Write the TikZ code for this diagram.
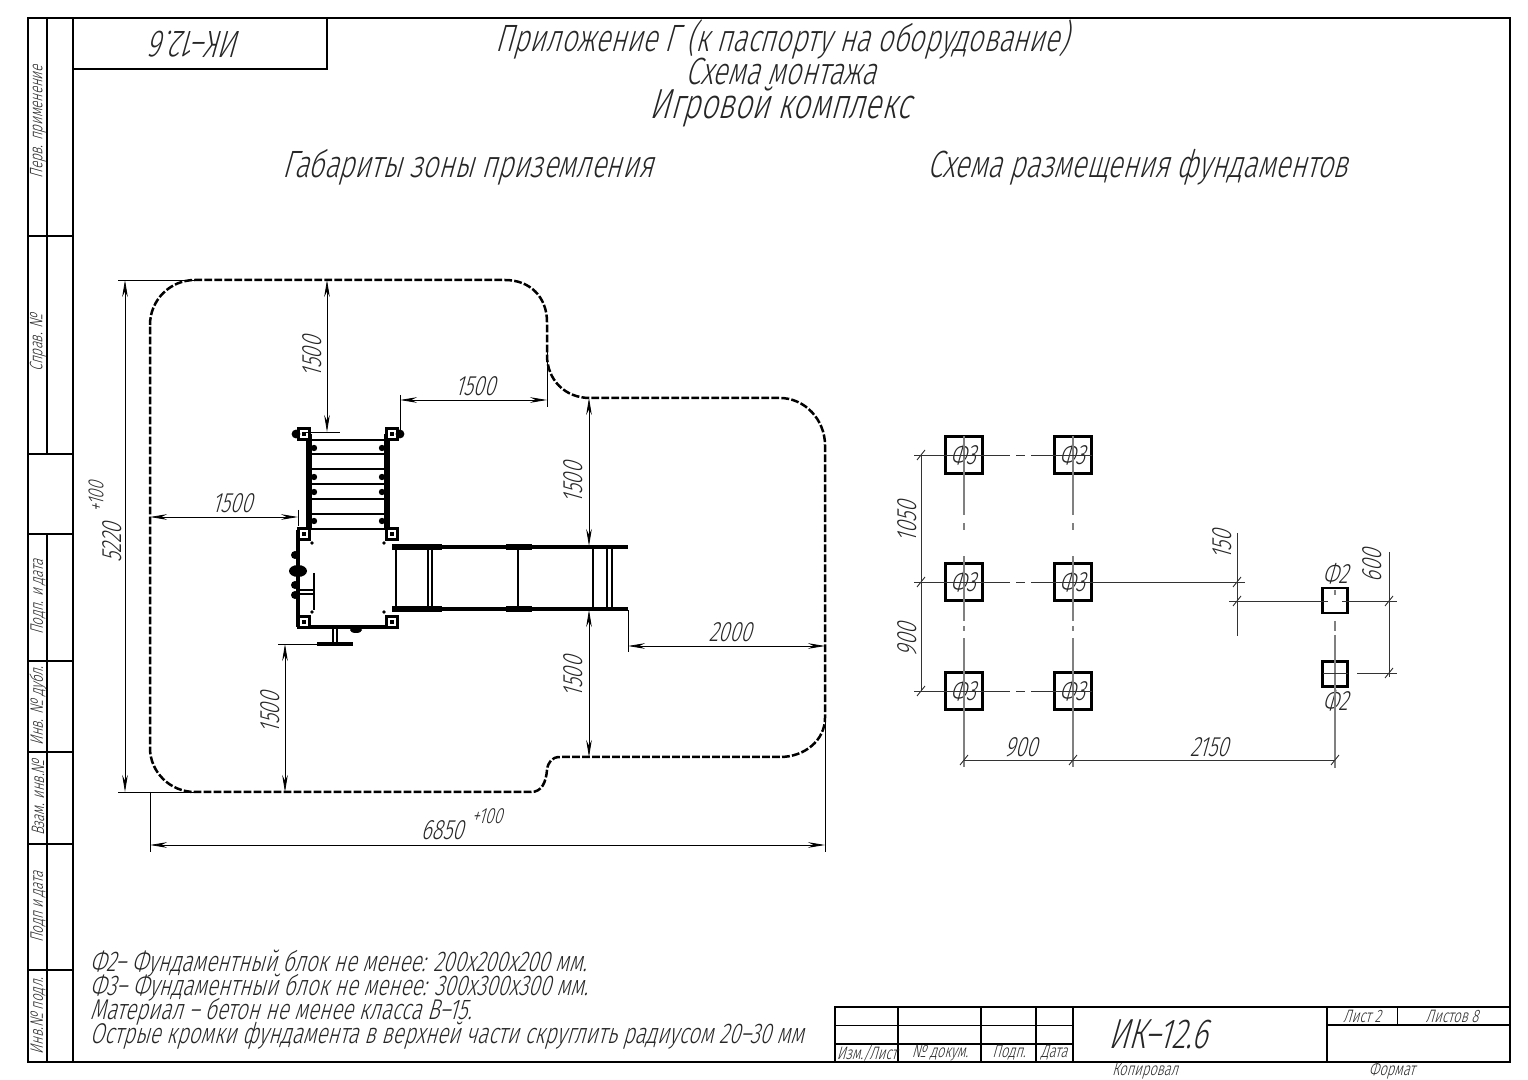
\documentclass[tikz,border=0pt]{standalone}
\usepackage{fontspec}
\setmainfont[FakeSlant=0.28,FakeStretch=0.72]{Fira Sans Light}
\usetikzlibrary{
  positioning,
  arrows.meta,
  calc
}

\begin{document}
\begin{tikzpicture}[x=0.5pt, y=-0.5pt,
  every node/.style={inner sep=0pt, outer sep=0pt, text=black!85},
  frameline/.style={line width=1.1pt},
  thinline/.style={line width=0.5pt},
  zone/.style={line width=1.25pt, dash pattern=on 3.9pt off 1.1pt},
  dimline/.style={line width=0.4pt, <->, >={Stealth[length=8.5pt,width=2.8pt]}},
  extline/.style={line width=0.35pt},
  axisv/.style={line width=0.7pt, black!50, dash pattern=on 39.5pt off 4pt on 3.5pt off 13pt on 32.5pt off 2.5pt on 2.5pt off 3.5pt on 200pt},
  axish/.style={line width=0.45pt, black!80, dash pattern=on 48pt off 3pt on 4.5pt off 3pt on 300pt},
  dimflat/.style={line width=0.45pt, black!80},
  rail/.style={line width=2.2pt},
  rung/.style={line width=1.3pt},
  block/.style={draw, line width=1.2pt, minimum width=18.5pt, minimum height=18.5pt},
  smallblock/.style={draw, line width=1.2pt, minimum width=12.5pt, minimum height=12.5pt},
  headline/.style={font=\fontsize{19}{19}\selectfont},
  bigline/.style={font=\fontsize{21}{21}\selectfont},
  dimtext/.style={font=\fontsize{14}{14}\selectfont},
  tol/.style={font=\fontsize{11}{11}\selectfont},
  notetext/.style={font=\fontsize{14.3}{14.3}\selectfont, anchor=west},
  strip/.style={font=\fontsize{9}{9}\selectfont, rotate=90},
  cell/.style={font=\fontsize{9}{9}\selectfont}
]
\useasboundingbox (0,0) rectangle (1528,1080);

% Sheet frame
\draw[frameline] (28,18) rectangle (1510,1062);
\draw[frameline] (73,18) -- (73,1062);
\draw[frameline] (47,18) -- (47,454);
\draw[frameline] (47,534) -- (47,1062);
\draw[frameline] (28,454) -- (73,454);
\foreach \y in {236,534,661,752,844,970}
  \draw[frameline] (28,\y) -- (73,\y);
\draw[frameline] (73,69) -- (327,69) -- (327,18);

% Stamp
\draw[frameline] (835,1062) -- (835,1007) -- (1510,1007);
\foreach \x in {898,981,1036,1073,1327}
  \draw[frameline] (\x,1007) -- (\x,1062);
\draw[thinline] (835,1025) -- (1073,1025);
\draw[frameline] (835,1044) -- (1073,1044);
\draw[frameline] (1327,1025) -- (1510,1025);
\draw[thinline] (1397,1007) -- (1397,1025);

% Strip labels
\node[strip] (perv) at (38,122) {Перв. применение};
\node[strip] (sprav) at (38,343) {Справ. №};
\node[strip] (podp1) at (38,597) {Подп. и дата};
\node[strip] (dubl) at (38,706) {Инв. № дубл.};
\node[strip] (vzam) at (38,798) {Взам. инв.№};
\node[strip] (podp2) at (38,907) {Подп и дата};
\node[strip] (podl) at (38,1016) {Инв.№ подл.};
\node[headline, rotate=180] (mark) at (198,44) {ИК–12.6};

% Titles
\node[headline] (title) at (782,39) {Приложение Г (к паспорту на оборудование)};
\node[headline] (subtitle) at (781,71) {Схема монтажа};
\node[bigline] (product) at (780,107) {Игровой комплекс};
\node[headline] (leftname) at (468,167) {Габариты зоны приземления};
\node[headline] (rightname) at (1138,167) {Схема размещения фундаментов};

% Landing zone
\draw[zone] (150,325) .. controls (150,300) and (170,280) .. (195,280) -- (505,280)
  .. controls (530,280) and (547,297) .. (547,322) -- (547,355)
  .. controls (547,380) and (565,398) .. (590,398) -- (780,398)
  .. controls (805,398) and (825,420) .. (825,445) -- (825,718)
  .. controls (825,740) and (805,757) .. (780,757) -- (560,757)
  .. controls (552,757) and (548,762) .. (547,770)
  .. controls (546,782) and (542,792) .. (531,792) -- (195,792)
  .. controls (170,792) and (150,772) .. (150,748) -- cycle;

% Ladder
\draw[rail, line width=3pt] (309,434) -- (309,530);
\draw[rail, line width=2.8pt] (387,434) -- (387,530);
\foreach \y in {440,454,469,484,499,514,529}
  \draw[rung] (309,\y) -- (387,\y);
\foreach \y in {448,477,492,521} {
  \fill (314,\y) circle (1.6pt);
  \fill (382,\y) circle (1.6pt);
}

% Deck
\draw[rail] (298,530) -- (298,627);
\draw[line width=1.6pt] (297,627) -- (396,627);
\draw[rung] (396,545) -- (396,612);
\draw[thinline] (304,529) -- (392,529);
\foreach \y in {555,585,595} \fill (295,\y) circle (2pt);
\fill (298,571) ellipse (4.5pt and 3pt);
\foreach \x/\y in {312/543,384/543,312/612,384/612} \fill (\x,\y) circle (0.9pt);
\draw[rung] (314,573) -- (314,610);
\draw[line width=.6pt] (300,590) -- (314,590) (300,594) -- (314,594);
\draw[line width=1.6pt] (317,644) -- (353,644);
\draw[line width=.6pt] (333,628) -- (333,644) (337,628) -- (337,644);
\fill (356,630) ellipse (3pt and 1.5pt);

% Posts
\foreach \x/\y in {304/434,392/434,304/534,392/534,304/622,392/622} {
  \fill (\x-7,\y-7) rectangle (\x+7,\y+7);
  \fill[white] (\x-4,\y-4) rectangle (\x+4,\y+4);
  \fill (\x-2,\y-2) rectangle (\x+2,\y+2);
}
\fill (296,434) circle (2.2pt);
\fill (400,434) circle (2.2pt);

% Slide
\draw[line width=1.6pt] (392,547) -- (628,547);
\draw[line width=1.6pt] (392,609) -- (628,609);
\foreach \x in {396,428,432,518,593} \draw[line width=.9pt] (\x,547) -- (\x,609);
\foreach \x in {607,612} \draw[line width=.6pt] (\x,547) -- (\x,609);
\foreach \xa/\xb in {392/442,506/532} {
  \draw[line width=2.6pt] (\xa,547) -- (\xb,547);
  \draw[line width=2.6pt] (\xa,609) -- (\xb,609);
}

% Zone dimensions
\draw[extline] (118,280) -- (195,280);
\draw[extline] (118,792) -- (195,792);
\draw[dimline] (125,280) -- (125,792);
\node[dimtext, rotate=90] (totalh) at (112,543) {5220};
\node[tol, rotate=90] (totalhtol) at (96,497) {+100};

\draw[dimline] (327,280) -- (327,432);
\draw[extline] (306,432) -- (340,432);
\node[dimtext, rotate=90] (topgap) at (312,357) {1500};

\draw[extline] (400,395) -- (400,432);
\draw[extline] (547,350) -- (547,407);
\draw[dimline] (400,400) -- (547,400);
\node[dimtext] (backgap) at (475,386) {1500};

\draw[dimline] (589,398) -- (589,546);
\node[dimtext, rotate=90] (slideup) at (573,483) {1500};

\draw[extline] (298,510) -- (298,526);
\draw[dimline] (150,517) -- (298,517);
\node[dimtext] (leftgap) at (232,503) {1500};

\draw[extline] (628,610) -- (628,652);
\draw[dimline] (628,646) -- (825,646);
\node[dimtext] (slideend) at (730,632) {2000};

\draw[dimline] (589,610) -- (589,757);
\node[dimtext, rotate=90] (slidedown) at (573,677) {1500};

\draw[extline] (278,644) -- (320,644);
\draw[dimline] (285,644) -- (285,792);
\node[dimtext, rotate=90] (bottomgap) at (270,713) {1500};

\draw[extline] (150,792) -- (150,852);
\draw[extline] (825,720) -- (825,852);
\draw[dimline] (150,845) -- (825,845);
\node[dimtext] (totalw) at (442,830) {6850};
\node[tol] (totalwtol) at (487,816) {+100};

% Foundations
\foreach \name/\x in {a/964,b/1073}
  \foreach \row/\y in {1/455,2/582,3/691} {
    \node[block] (\name\row) at (\x,\y) {};
    \node[dimtext] (\name\row t) at (\x-1,\y) {Ф3};
  }
\node[smallblock] (c1) at (1335,600.5) {};
\node[smallblock] (c2) at (1335,674) {};
\node[dimtext, above=2pt of c1] (c1t) {Ф2};
\node[dimtext, below=2pt of c2] (c2t) {Ф2};

% Foundation axes
\draw[axisv] (a1.north) -- ++(0,331);
\draw[axisv] (b1.north) -- ++(0,331);
\draw[axisv, dash pattern=on 5pt off 2pt on 100pt] (1335,621) -- (1335,768);
\draw[axisv, solid] (1335,590) -- (1335,595);
\draw[axish] (914,455) -- (1092,455);
\draw[axish] (914,582) -- (1245,582);
\draw[axish] (914,691) -- (1092,691);
\draw[dimflat] (1229,601) -- (1328,601) (1342,601) -- (1397,601);
\draw[dimflat] (1323,673) -- (1348,673) (1357,673) -- (1397,673);

% Foundation dimensions
\draw[dimflat] (921,455) -- (921,691);
\node[dimtext, rotate=90] (d1050) at (907,522) {1050};
\node[dimtext, rotate=90] (d900l) at (907,640) {900};

\draw[dimflat] (964,760) -- (1335,760);
\node[dimtext] (d900b) at (1021,747) {900};
\node[dimtext] (d2150) at (1209,747) {2150};

\draw[dimflat] (1237,533) -- (1237,636);
\node[dimtext, rotate=90] (d150) at (1222,545) {150};

\draw[dimflat] (1389,552) -- (1389,677);
\node[dimtext, rotate=90] (d600) at (1372,566) {600};

% Dimension ticks
\foreach \x/\y in {921/455,921/582,921/691,964/760,1073/760,1335/760,1237/582,1237/601,1389/601,1389/673}
  \draw[dimflat] (\x-4,\y+5) -- (\x+4,\y-5);

% Notes
\node[notetext] (note1) at (90,963.5) {Ф2– Фундаментный блок не менее: 200х200х200 мм.};
\node[notetext] (note2) at (90,987.5) {Ф3– Фундаментный блок не менее: 300х300х300 мм.};
\node[notetext] (note3) at (90,1011.5) {Материал – бетон не менее класса В–15.};
\node[notetext] (note4) at (90,1035.5) {Острые кромки фундамента в верхней части скруглить радиусом 20–30 мм};

% Stamp text
\node[bigline] (code) at (1158,1034) {ИК–12.6};
\node[cell] (sheet) at (1362,1016) {Лист 2};
\node[cell] (sheets) at (1452,1016) {Листов 8};
\node[cell] (izm) at (867,1053) {Изм./Лист};
\node[cell] (doc) at (940,1053) {№ докум.};
\node[cell] (sign) at (1009,1053) {Подп.};
\node[cell] (date) at (1054,1053) {Дата};
\node[cell] (copy) at (1145,1071) {Копировал};
\node[cell] (format) at (1392,1071) {Формат};

\end{tikzpicture}
\end{document}
